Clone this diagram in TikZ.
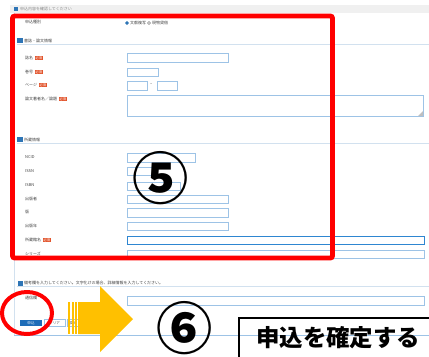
\documentclass[tikz,border=0pt]{standalone}
\usepackage{fontspec}
\setmainfont{Noto Sans CJK JP}
\usetikzlibrary{calc,positioning}

\definecolor{markred}{HTML}{FF0000}
\definecolor{fieldblue}{HTML}{9DC3E6}
\definecolor{darkfield}{HTML}{2E86D1}
\definecolor{sepblue}{HTML}{D2E1EF}
\definecolor{iconblue}{HTML}{2E75B6}
\definecolor{badgered}{HTML}{E2542C}
\definecolor{stripgray}{HTML}{F0F0F0}
\definecolor{arroworange}{HTML}{FFC000}
\definecolor{btnblue}{HTML}{1E6DB8}

\begin{document}
\begin{tikzpicture}
      [x = 0.03cm, y = -0.03cm,
      lbl/.style = {
         anchor = west,
         inner sep = 0pt,
         text = black!75,
         font = \fontsize{3.4}{4}\selectfont
      },
      badge/.style = {
         fill = badgered,
         text = white,
         inner sep = 0.7pt,
         font = \fontsize{2.8}{3}\selectfont
      },
      field/.style = {draw = fieldblue, line width = 0.6pt},
      sepline/.style = {draw = sepblue, line width = 0.6pt},
      secicon/.style = {fill = iconblue},
      radio/.style = {
         draw = gray,
         circle,
         inner sep = 0pt,
         minimum size = 2.6pt
      },
      redmark/.style = {draw = markred, line width = 4.2pt},
      bignum/.style = {font = \fontsize{48}{48}\selectfont\bfseries, inner sep = 0pt}]

      \useasboundingbox (0, 0) rectangle (429, 356);
      \clip (0, 0) rectangle (429, 356);

      % page header strip
      \fill[stripgray] (10, 5) rectangle (429, 13);
      \fill[secicon] (14, 7) rectangle (18, 11);
      \node[lbl, text = black!45] (pagetitle) at (20, 9) {申込内容を確認してください};

      % form frame
      \draw[sepline] (14, 13) -- (14, 335);
      \draw[field] (14, 335) -- (429, 335);

      % kind of request
      \node[lbl] (kind) at (25, 22) {申込種別};
      \node[radio, fill = iconblue, draw = iconblue] (radioa) at (127, 23) {};
      \node[lbl, right = 1pt of radioa] (copy) {文献複写};
      \node[radio] (radiob) at (149, 23) {};
      \node[lbl, right = 1pt of radiob] (loan) {現物貸借};

      % bibliographic section
      \fill[secicon] (17, 38) rectangle (23, 43);
      \node[lbl] (sectbib) at (24, 41) {書誌・論文情報};
      \draw[sepline] (17, 44) -- (429, 44);

      \node[lbl] (title) at (25, 58) {誌名};
      \node[badge, right = 1pt of title] {必須};
      \draw[field] (127, 53) rectangle (228, 62);

      \node[lbl] (volume) at (25, 72) {巻号};
      \node[badge, right = 1pt of volume] {必須};
      \draw[field] (127, 68) rectangle (158, 76);

      \node[lbl] (pages) at (25, 85) {ページ};
      \node[badge, right = 1pt of pages] {必須};
      \draw[field] (127, 81) rectangle (147, 90);
      \node[lbl] (tilde) at (150, 85) {\textasciitilde};
      \draw[field] (157, 81) rectangle (177, 90);

      \node[lbl] (article) at (25, 99) {論文著者名／論題};
      \node[badge, right = 1pt of article] {必須};
      \draw[field] (127, 95) rectangle (423, 116);
      \fill[gray!50] (423, 116) -- (418, 116) -- (423, 111) -- cycle;

      % holding section
      \fill[secicon] (17, 137) rectangle (23, 142);
      \node[lbl] (secthold) at (24, 140) {所蔵情報};
      \draw[sepline] (17, 143) -- (429, 143);

      \node[lbl] (ncid) at (25, 157) {NCID};
      \draw[field] (127, 153) rectangle (195, 162);
      \node[lbl] (issn) at (25, 171) {ISSN};
      \draw[field] (127, 167) rectangle (157, 175);
      \node[lbl] (isbn) at (25, 185) {ISBN};
      \draw[field] (127, 182) rectangle (180, 190);
      \node[lbl] (publisher) at (25, 199) {出版者};
      \draw[field] (127, 195) rectangle (228, 203);
      \node[lbl] (edition) at (25, 212) {版};
      \draw[field] (127, 208) rectangle (228, 217);
      \node[lbl] (year) at (25, 226) {出版年};
      \draw[field] (127, 222) rectangle (228, 230);
      \node[lbl] (holder) at (25, 240) {所蔵館名};
      \node[badge, right = 1pt of holder] {必須};
      \draw[field, draw = darkfield] (127, 236) rectangle (424, 244);
      \node[lbl] (series) at (25, 254) {シリーズ};
      \draw[field] (127, 250) rectangle (424, 258);

      % notes section
      \fill[secicon] (18, 281) rectangle (23, 286);
      \node[lbl] (sectnote) at (24, 283)
         {備考欄を入力してください。文字化けの場合、詳細情報を入力してください。};
      \draw[sepline] (17, 286) -- (429, 286);
      \node[lbl] (note) at (25, 298) {通信欄};
      \draw[field] (127, 296) rectangle (424, 305);

      % buttons
      \node[fill = btnblue, text = white, minimum width = 22*0.85pt,
         minimum height = 7*0.85pt, inner sep = 0pt,
         font = \fontsize{3}{3}\selectfont] (apply) at (31, 323) {申込};
      \node[draw = fieldblue, text = black!70, minimum width = 21*0.85pt,
         minimum height = 7*0.85pt, inner sep = 0pt,
         font = \fontsize{3}{3}\selectfont, right = 1.5pt of apply] (clear) {クリア};
      \node[draw = fieldblue, text = black!70, minimum width = 12*0.85pt,
         minimum height = 7*0.85pt, inner sep = 0pt,
         font = \fontsize{3}{3}\selectfont, right = 1.5pt of clear] (back) {戻る};

      % red marks
      \draw[redmark, rounded corners = 2] (12.5, 16) rectangle (332.5, 258);
      \draw[redmark, line width = 3.4pt] (27, 313) ellipse [x radius = 25, y radius = 21];

      % orange arrow
      \fill[arroworange] (68, 302) rectangle (70, 334);
      \fill[arroworange] (71.5, 302) rectangle (73.5, 334);
      \fill[arroworange] (75, 302) rectangle (77, 334);
      \fill[arroworange] (78, 302) -- (100, 302) -- (100, 286) -- (133, 319)
         -- (100, 352) -- (100, 334) -- (78, 334) -- cycle;

      % step numbers
      \node[bignum] (stepfive) at (161, 178) {⑤};
      \node[bignum] (stepsix) at (185, 328) {⑥};

      % confirm caption
      \draw[black, line width = 1pt] (239, 318) rectangle (440, 370);
      \node[anchor = west, inner sep = 0pt, font = \fontsize{20}{20}\selectfont\bfseries]
         (confirm) at (256, 338) {申込を確定する};

\end{tikzpicture}
\end{document}
